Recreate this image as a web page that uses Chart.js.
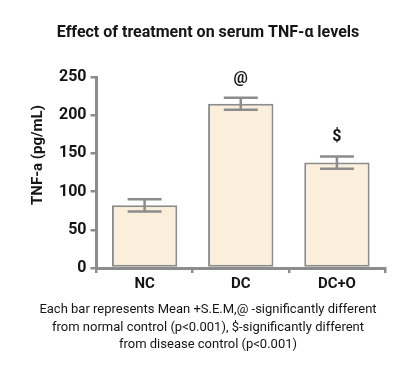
<!DOCTYPE html>
<html>
<head>
<meta charset="utf-8">
<script src="https://cdn.jsdelivr.net/npm/chart.js@4"></script>
<style>
  html, body { margin: 0; padding: 0; background: #fff; }
  #wrap { width: 416px; height: 377px; position: relative; }
</style>
</head>
<body>
<div id="wrap"><canvas id="tnfChart"></canvas></div>
<script>
// ---- data ----
const groups = ['NC', 'DC', 'DC+O'];
const meanValues = [82, 215, 138];
const semValues = [8, 8, 8];
const markers = ['', '@', '$'];
const yTicks = [0, 50, 100, 150, 200, 250];

const chartTitle = 'Effect of treatment on serum TNF-\u03b1 levels';
const yTitle = 'TNF-a (pg/mL)';
const footnote = [
  'Each bar represents Mean +S.E.M,@ -significantly different',
  'from normal control (p<0.001), $-significantly different',
  'from disease control (p<0.001)'
];

const GREY = '#8c8c8c';
const INK = '#151515';
const FONT = 'Roboto, "Noto Sans", sans-serif';

// error bars + significance markers, drawn from the y scale
const errorBarPlugin = {
  id: 'errorBars',
  afterDatasetsDraw(chart) {
    const ctx = chart.ctx;
    const y = chart.scales.y;
    const meta = chart.getDatasetMeta(0);
    ctx.save();
    ctx.strokeStyle = GREY;
    ctx.lineWidth = 2.5;
    meta.data.forEach((bar, i) => {
      const top = y.getPixelForValue(meanValues[i] + semValues[i]);
      const bot = y.getPixelForValue(meanValues[i] - semValues[i]);
      const half = 17;
      ctx.beginPath();
      ctx.moveTo(bar.x, top); ctx.lineTo(bar.x, bot);
      ctx.moveTo(bar.x - half, top); ctx.lineTo(bar.x + half, top);
      ctx.moveTo(bar.x - half, bot); ctx.lineTo(bar.x + half, bot);
      ctx.stroke();
      if (markers[i]) {
        ctx.fillStyle = INK;
        ctx.font = 'bold 16px ' + FONT;
        ctx.textAlign = 'center';
        ctx.textBaseline = 'middle';
        ctx.fillText(markers[i], bar.x, top - 19);
      }
    });
    ctx.restore();
  }
};

// title, y-axis title and footnote
const textPlugin = {
  id: 'texts',
  afterDraw(chart) {
    const ctx = chart.ctx;
    const w = chart.width;
    ctx.save();
    ctx.fillStyle = INK;
    ctx.textAlign = 'center';
    ctx.textBaseline = 'middle';
    ctx.font = 'bold 16px ' + FONT;
    ctx.fillText(chartTitle, w / 2, 33);

    ctx.font = '13px ' + FONT;
    footnote.forEach((line, i) => ctx.fillText(line, w / 2, 310 + i * 17.5));

    ctx.translate(38, 155);
    ctx.rotate(-Math.PI / 2);
    ctx.font = 'bold 15px ' + FONT;
    ctx.fillText(yTitle, 0, 0);
    ctx.restore();
  }
};

new Chart(document.getElementById('tnfChart'), {
  type: 'bar',
  data: {
    labels: groups,
    datasets: [{
      data: meanValues,
      backgroundColor: '#fbeedb',
      borderColor: GREY,
      borderWidth: 2,
      borderSkipped: false,
      barPercentage: 0.68,
      categoryPercentage: 1
    }]
  },
  options: {
    responsive: true,
    maintainAspectRatio: false,
    animation: false,
    layout: {
      padding: { top: 77, right: 31, bottom: 82, left: 55 }
    },
    plugins: {
      legend: { display: false },
      tooltip: { enabled: false }
    },
    scales: {
      x: {
        offset: true,
        grid: {
          display: true,
          drawOnChartArea: false,
          drawTicks: true,
          tickLength: 5,
          color: GREY,
          lineWidth: 2.5
        },
        border: { display: true, color: GREY, width: 3 },
        ticks: {
          color: INK,
          padding: 2,
          font: { family: FONT, size: 15, weight: 'bold' }
        }
      },
      y: {
        min: 0,
        max: 250,
        afterBuildTicks: (axis) => {
          axis.ticks = yTicks.map(v => ({ value: v }));
        },
        grid: {
          display: true,
          drawOnChartArea: false,
          drawTicks: true,
          tickLength: 6,
          color: GREY,
          lineWidth: 2.5
        },
        border: { display: true, color: GREY, width: 3 },
        ticks: {
          color: INK,
          padding: 4,
          font: { family: FONT, size: 16, weight: 'bold' }
        }
      }
    }
  },
  plugins: [errorBarPlugin, textPlugin]
});
</script>
</body>
</html>
